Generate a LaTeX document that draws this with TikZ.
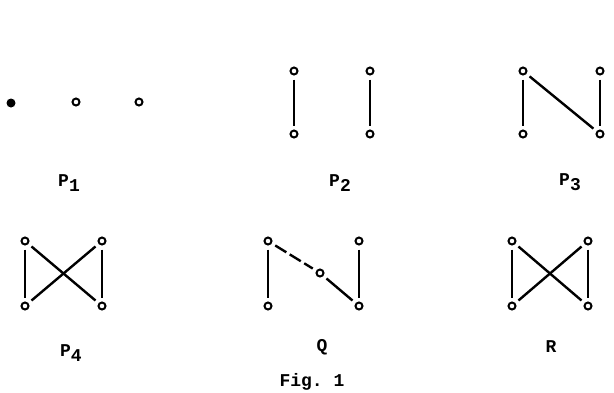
\documentclass[tikz,border=0pt]{standalone}
\usepackage{fontspec}
\setmonofont{Liberation Mono}
\usetikzlibrary{positioning}

\newcommand{\lowidx}[1]{\raisebox{-5pt}{#1}}

\begin{document}
\begin{tikzpicture}[
    x=1pt, y=-1pt,
    vtx/.style={circle, draw, line width=2pt, inner sep=0pt, minimum size=7pt},
    blob/.style={circle, fill, inner sep=0pt, minimum size=9pt},
    edge/.style={line width=2.4pt, shorten <=4pt, shorten >=4pt},
    lbl/.style={font=\ttfamily\bfseries\fontsize{18}{18}\selectfont, inner sep=0pt}
]
\useasboundingbox (0,0) rectangle (614,392);

% P_1
\node[blob] (p1a) at (11,103) {};
\node[vtx] (p1b) at (76,102) {};
\node[vtx] (p1c) at (139,102) {};
\node[lbl] (p1) at (69,183) {P\lowidx{1}};

% P_2
\node[vtx] (p2a) at (294,71) {};
\node[vtx] (p2b) at (294,134) {};
\node[vtx] (p2c) at (370,71) {};
\node[vtx] (p2d) at (370,134) {};
\draw[edge] (p2a) -- (p2b);
\draw[edge] (p2c) -- (p2d);
\node[lbl] (p2) at (340,183) {P\lowidx{2}};

% P_3
\node[vtx] (p3a) at (523,71) {};
\node[vtx] (p3b) at (523,134) {};
\node[vtx] (p3c) at (600,71) {};
\node[vtx] (p3d) at (600,134) {};
\draw[edge] (p3a) -- (p3b);
\draw[edge] (p3c) -- (p3d);
\draw[edge] (p3a) -- (p3d);
\node[lbl] (p3) at (570,182) {P\lowidx{3}};

% P_4
\node[vtx] (p4a) at (25,241) {};
\node[vtx] (p4b) at (25,306) {};
\node[vtx] (p4c) at (102,241) {};
\node[vtx] (p4d) at (102,306) {};
\draw[edge] (p4a) -- (p4b);
\draw[edge] (p4c) -- (p4d);
\draw[edge] (p4a) -- (p4d);
\draw[edge] (p4c) -- (p4b);
\node[lbl] (p4) at (71,353) {P\lowidx{4}};

% Q
\node[vtx] (qa) at (268,241) {};
\node[vtx] (qb) at (268,306) {};
\node[vtx] (qc) at (359,241) {};
\node[vtx] (qd) at (359,306) {};
\node[vtx] (qm) at (320,273) {};
\draw[edge] (qa) -- (qb);
\draw[edge] (qc) -- (qd);
\draw[edge, dash pattern=on 13pt off 4pt] (qa) -- (qm);
\draw[edge] (qm) -- (qd);
\node[lbl] (q) at (322,347) {Q};

% R
\node[vtx] (ra) at (512,241) {};
\node[vtx] (rb) at (512,306) {};
\node[vtx] (rc) at (588,241) {};
\node[vtx] (rd) at (588,306) {};
\draw[edge] (ra) -- (rb);
\draw[edge] (rc) -- (rd);
\draw[edge] (ra) -- (rd);
\draw[edge] (rc) -- (rb);
\node[lbl] (r) at (551,347) {R};

\node[lbl] (fig) at (312,382) {Fig. 1};
\end{tikzpicture}
\end{document}
